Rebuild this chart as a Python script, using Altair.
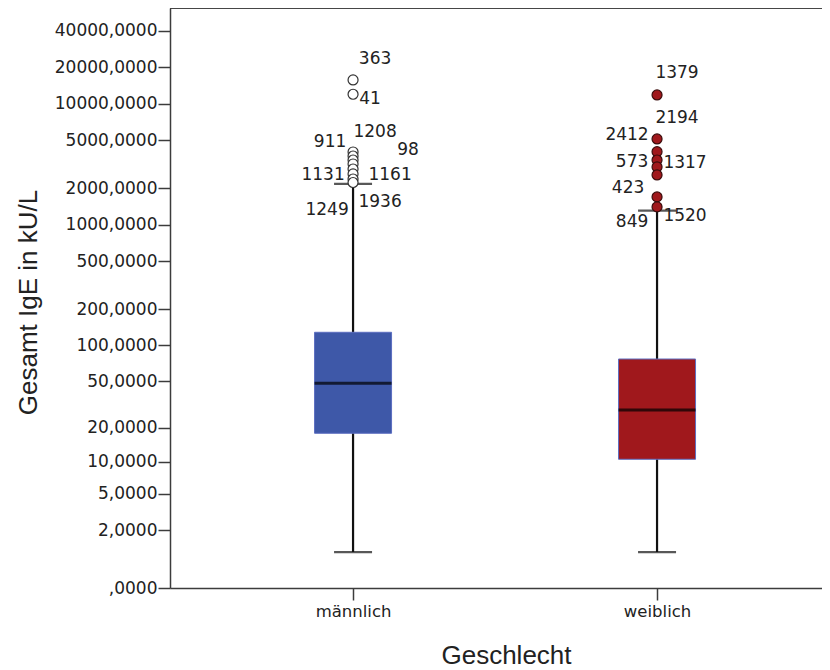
import altair as alt
import pandas as pd

# ---- data ----
groups = ["männlich", "weiblich"]
q1 = [17.97, 10.57]
median = [48.1, 28.5]
q3 = [128.5, 76.9]
whisk_lo = [0.98, 0.98]
whisk_hi = [2175, 1309]

outliers_m = [15720, 11980, 3995, 3700, 3430, 3180, 2890, 2630, 2390, 2235]
outliers_f = [11830, 5120, 4015, 3430, 3005, 2580, 1700, 1405]

label_text_m = ["363", "41", "1208", "911", "98", "1131", "1161", "1936", "1249"]
label_val_m = [23450, 10960, 5850, 4835, 4150, 2580, 2580, 1545, 1326]
label_dx_m = [22, 17, 22, -23, 55, -30, 37, 27, -26]

label_text_f = ["1379", "2194", "2412", "573", "1317", "423", "1520", "849"]
label_val_f = [17950, 7630, 5530, 3310, 3245, 2015, 1183, 1055]
label_dx_f = [20, 20, -30, -25, 28, -29, 28, -25]

tick_values = [0, 2, 5, 10, 20, 50, 100, 200, 500, 1000, 2000, 5000, 10000, 20000, 40000]

box_colors = ["#3e58a8", "#a0181c"]

# ---- tables ----
box_df = pd.DataFrame({"Geschlecht": groups, "q1": q1, "median": median, "q3": q3,
                       "lo": whisk_lo, "hi": whisk_hi})
out_m = pd.DataFrame({"Geschlecht": groups[0], "value": outliers_m})
out_f = pd.DataFrame({"Geschlecht": groups[1], "value": outliers_f})
lab_df = pd.DataFrame({
    "Geschlecht": [groups[0]] * len(label_text_m) + [groups[1]] * len(label_text_f),
    "value": label_val_m + label_val_f,
    "text": label_text_m + label_text_f,
    "dx": label_dx_m + label_dx_f,
})

FONT = "DejaVu Sans"
TFONT = "Liberation Sans"
TXT = "#222222"
AX = "#3c3c3c"

x_enc = alt.X(
    "Geschlecht:N",
    scale=alt.Scale(type="point", domain=groups, padding=0.5724, align=0.526),
    axis=alt.Axis(
        title="Geschlecht", labelAngle=0, labelFont=FONT, labelFontSize=16.5, labelColor=TXT,
        labelPadding=3, tickSize=12, tickColor=AX, tickWidth=1.5, domainColor=AX, domainWidth=1.5,
        titleFont=TFONT, titleFontSize=26, titleFontWeight="normal", titleColor=TXT,
        titleX=336, titleY=75, titleBaseline="alphabetic", titleAlign="center",
    ),
)
y_scale = alt.Scale(type="symlog", constant=1, domain=[0, 61800], nice=False)
y_axis = alt.Axis(
    title="Gesamt IgE  in kU/L", values=tick_values, grid=False,
    labelExpr="datum.value == 0 ? ',0000' : datum.value + ',0000'",
    labelFont=FONT, labelFontSize=17, labelColor=TXT, labelPadding=1,
    tickSize=12, tickColor=AX, tickWidth=1.5, domainColor=AX, domainWidth=1.5,
    titleFont=TFONT, titleFontSize=26, titleFontWeight="normal", titleColor=TXT,
    titleAngle=270, titleX=-142, titleY=294, titleAlign="center", titleBaseline="middle",
)

base = alt.Chart(box_df)

whisker = base.mark_rule(color="#111111", strokeWidth=2.2).encode(
    x=x_enc, y=alt.Y("lo:Q", scale=y_scale, axis=y_axis), y2="hi:Q")
caps_hi = base.mark_tick(size=38, thickness=2.2, color="#111111").encode(
    x=x_enc, y=alt.Y("hi:Q", scale=y_scale))
caps_lo = base.mark_tick(size=38, thickness=2.2, color="#111111").encode(
    x=x_enc, y=alt.Y("lo:Q", scale=y_scale))
box = base.mark_bar(size=77, stroke="#5c6ec0", strokeWidth=1).encode(
    x=x_enc, y=alt.Y("q1:Q", scale=y_scale), y2="q3:Q",
    fill=alt.Fill("Geschlecht:N", scale=alt.Scale(domain=groups, range=box_colors), legend=None))
med = base.mark_tick(size=77, thickness=3, color="#000000").encode(
    x=x_enc, y=alt.Y("median:Q", scale=y_scale))

pts_m = alt.Chart(out_m).mark_point(filled=True, fill="white", stroke="#333333",
                                    strokeWidth=1.2, size=100, opacity=1).encode(
    x=x_enc, y=alt.Y("value:Q", scale=y_scale))
pts_f = alt.Chart(out_f).mark_point(filled=True, fill="#a0181c", stroke="#3a0c0c",
                                    strokeWidth=1.2, size=100, opacity=1).encode(
    x=x_enc, y=alt.Y("value:Q", scale=y_scale))

labels = alt.Chart(lab_df).mark_text(font=FONT, fontSize=17, color=TXT,
                                     align="center", baseline="middle").encode(
    x=x_enc,
    xOffset=alt.XOffset("dx:Q", scale=alt.Scale(domain=[-100, 100], range=[-100, 100])),
    y=alt.Y("value:Q", scale=y_scale),
    text="text:N")

top_frame = alt.Chart(box_df).mark_rule(color=AX, strokeWidth=1.5).encode(y=alt.value(0))

chart = alt.layer(whisker, box, med, caps_hi, caps_lo, pts_m, pts_f, labels, top_frame).properties(
    width=652, height=580,
    autosize=alt.AutoSizeParams(type="none"),
    padding={"left": 162, "top": 0, "right": 0, "bottom": 82},
).configure_view(stroke=None).configure(background="white")

chart.save("out.html", embed_options={"renderer": "svg", "actions": False})
